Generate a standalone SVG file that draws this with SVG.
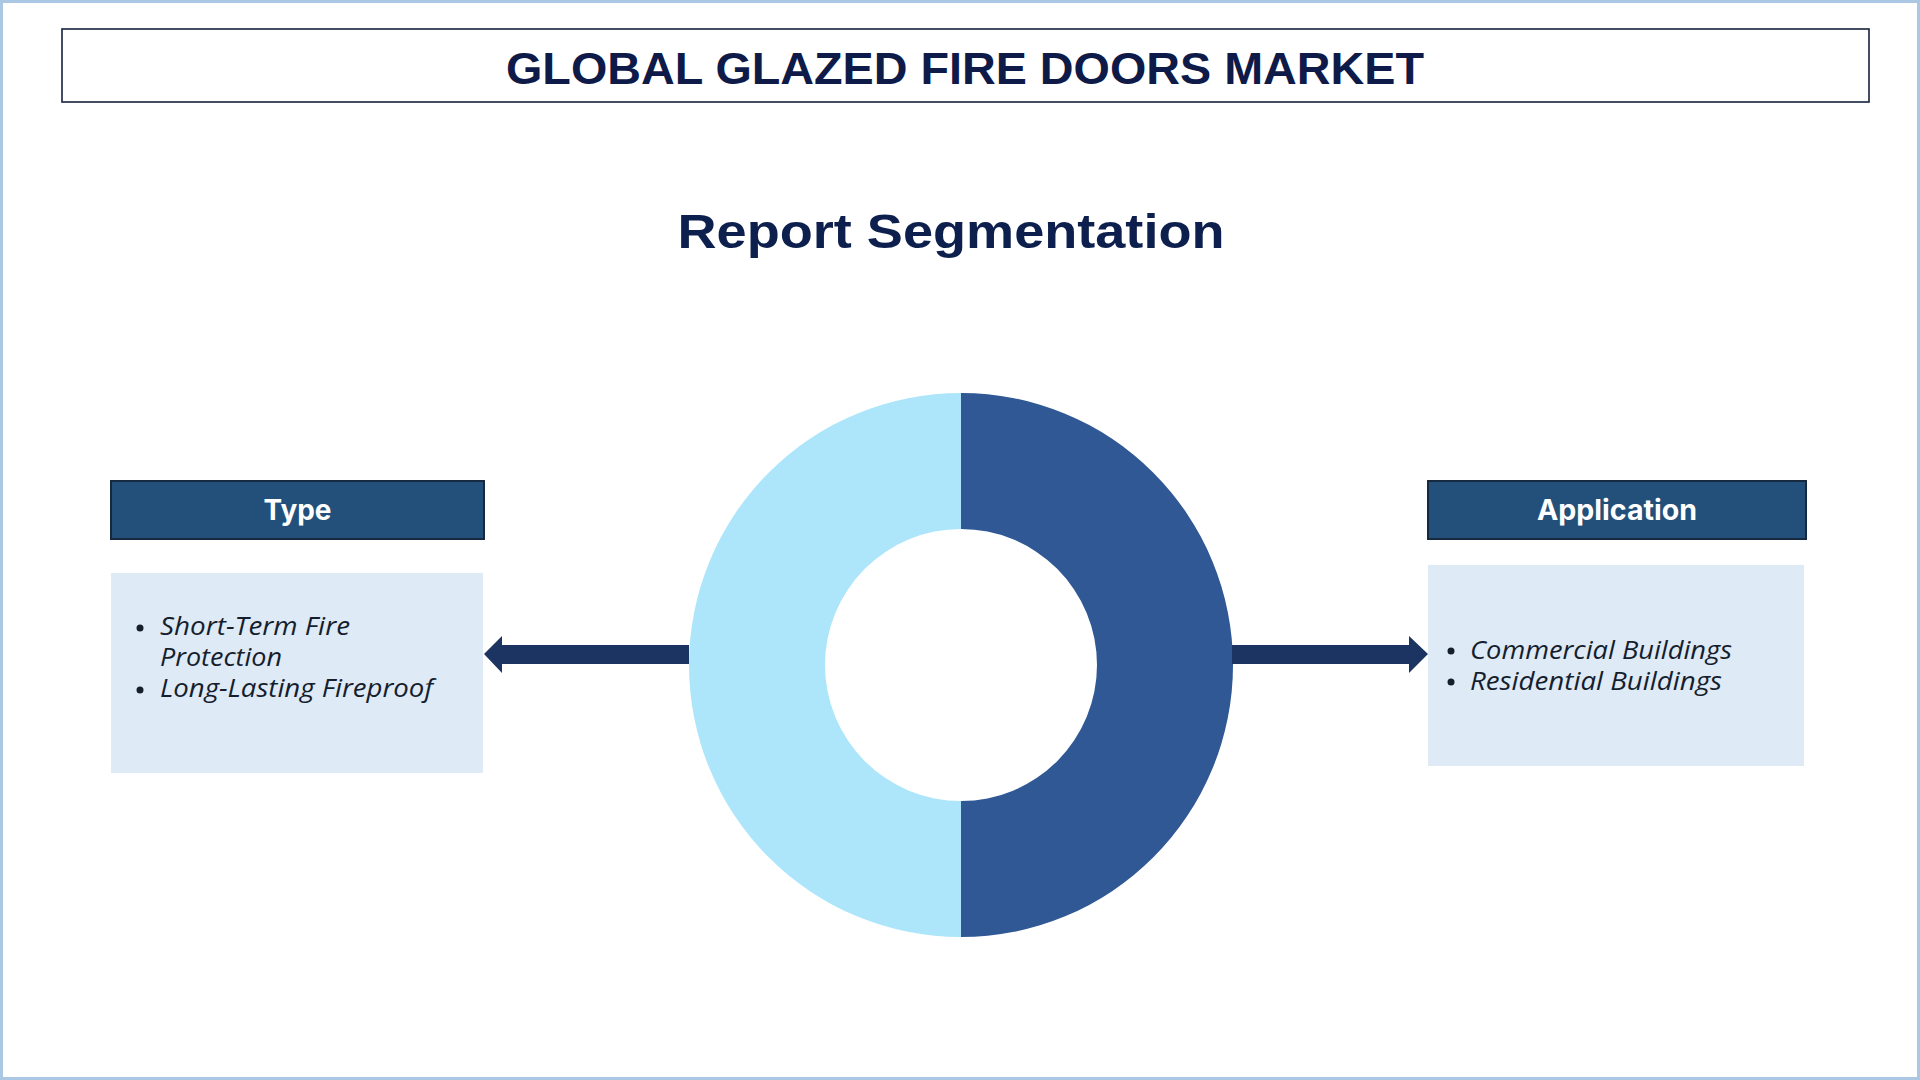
<svg xmlns="http://www.w3.org/2000/svg" width="1920" height="1080" viewBox="0 0 1920 1080">
<style>
.hdr{fill:#22507a;stroke:#16293f;stroke-width:2}
.hdrtxt{font-family:Inter,"Open Sans","Liberation Sans",sans-serif;font-weight:700;font-size:28px;fill:#ffffff;text-anchor:middle}
.body{fill:#deeaf6}
.item{font-family:"Open Sans","Noto Sans","Liberation Sans",sans-serif;font-style:italic;font-size:25px;fill:#161e2e}
.dot{fill:#161e2e}
.arrow{fill:#1c3461}
</style>
<rect x="0" y="0" width="1920" height="1080" fill="#ffffff"/>
<rect x="1.5" y="1.5" width="1917" height="1077" fill="none" stroke="#aac7e4" stroke-width="3"/>
<g id="title">
<rect x="62" y="29" width="1807" height="73" fill="#ffffff" stroke="#15223f" stroke-width="1.6"/>
<text x="965" y="84" font-family="'Liberation Sans',Arial,sans-serif" font-weight="700" font-size="45" fill="#0e1a48" text-anchor="middle" textLength="918" lengthAdjust="spacingAndGlyphs">GLOBAL GLAZED FIRE DOORS MARKET</text>
</g>
<g id="subtitle">
<text x="951" y="248" font-family="'Liberation Sans',Arial,sans-serif" font-weight="700" font-size="48" fill="#0d1f4d" text-anchor="middle" textLength="547" lengthAdjust="spacingAndGlyphs">Report Segmentation</text>
</g>
<g id="donut">
<path d="M961,393 A272,272 0 0 0 961,937 L961,801 A136,136 0 0 1 961,529 Z" fill="#ade6fb"/>
<path d="M961,393 A272,272 0 0 1 961,937 L961,801 A136,136 0 0 0 961,529 Z" fill="#2f5895"/>
</g>
<g id="connectors">
<polygon class="arrow" points="689,645 502,645 502,636 484,654 502,673 502,664 689,664"/>
<polygon class="arrow" points="1232,645 1409,645 1409,636 1428,654 1409,673 1409,664 1232,664"/>
</g>
<g id="type-header">
<rect class="hdr" x="111" y="481" width="373" height="58"/>
<text class="hdrtxt" x="297.5" y="520" textLength="68" lengthAdjust="spacingAndGlyphs">Type</text>
</g>
<g id="type-body">
<rect class="body" x="111" y="573" width="372" height="200"/>
<circle class="dot" cx="140" cy="628" r="3.5"/>
<text class="item" x="160" y="635" textLength="190" lengthAdjust="spacingAndGlyphs">Short-Term Fire</text>
<text class="item" x="160" y="666" textLength="122" lengthAdjust="spacingAndGlyphs">Protection</text>
<circle class="dot" cx="140" cy="690" r="3.5"/>
<text class="item" x="160" y="697" textLength="273" lengthAdjust="spacingAndGlyphs">Long-Lasting Fireproof</text>
</g>
<g id="application-header">
<rect class="hdr" x="1428" y="481" width="378" height="58"/>
<text class="hdrtxt" x="1617" y="520" textLength="160" lengthAdjust="spacingAndGlyphs">Application</text>
</g>
<g id="application-body">
<rect class="body" x="1428" y="565" width="376" height="201"/>
<circle class="dot" cx="1451" cy="651" r="3.5"/>
<text class="item" x="1470" y="659" textLength="262" lengthAdjust="spacingAndGlyphs">Commercial Buildings</text>
<circle class="dot" cx="1451" cy="682" r="3.5"/>
<text class="item" x="1470" y="690" textLength="252" lengthAdjust="spacingAndGlyphs">Residential Buildings</text>
</g>
</svg>
